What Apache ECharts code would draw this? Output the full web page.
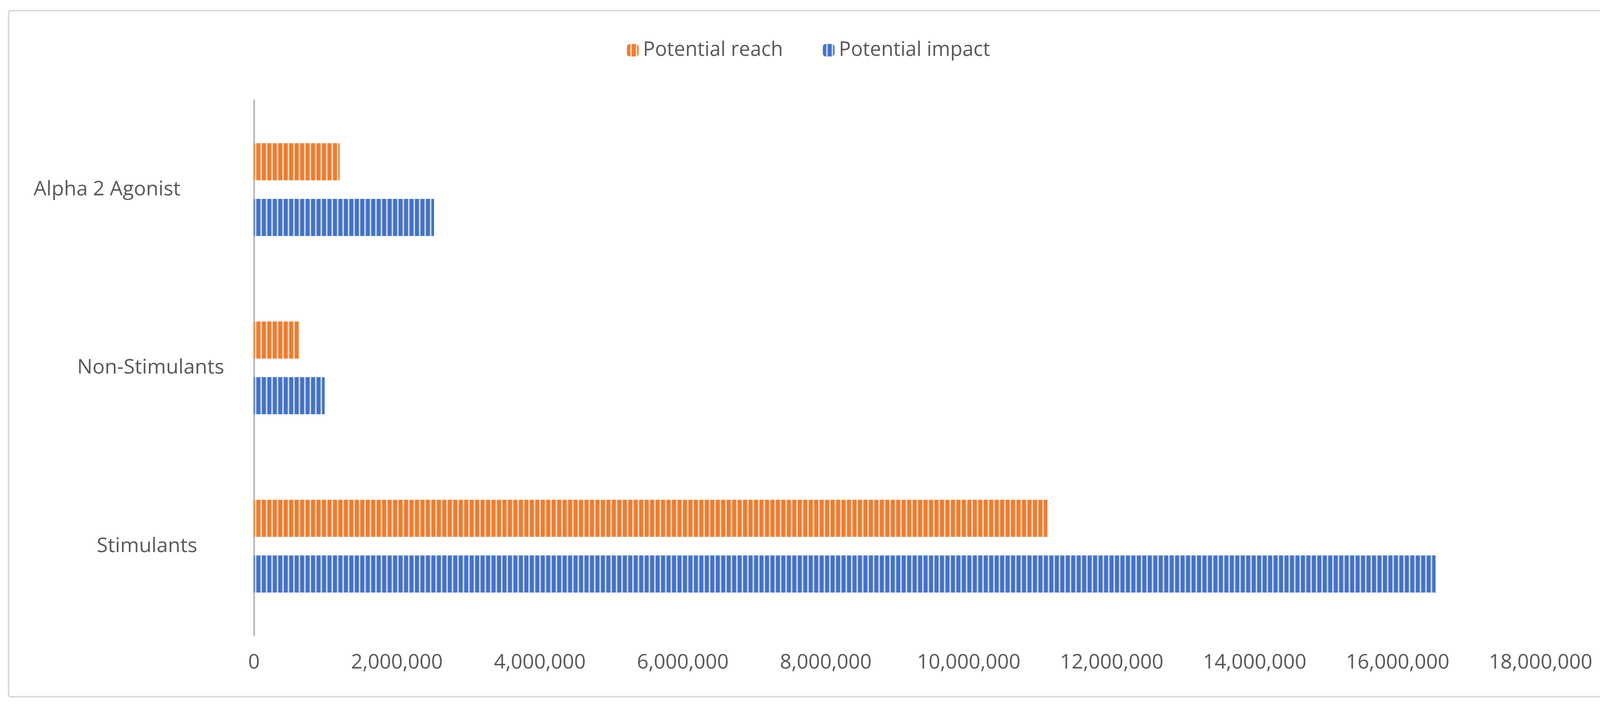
<!DOCTYPE html>
<html>
<head>
<meta charset="utf-8">
<script src="https://cdn.jsdelivr.net/npm/echarts@6/dist/echarts.min.js"></script>
<style>
html,body{margin:0;padding:0;background:#fff;}
#chart{width:4140px;height:1812px;}
</style>
</head>
<body>
<div id="chart"></div>
<script>
// ---- data ----
const categories = ['Stimulants', 'Non-Stimulants', 'Alpha 2 Agonist'];
const seriesNames = ['Potential reach', 'Potential impact'];
const potentialReach = [11100000, 630000, 1200000];
const potentialImpact = [16530000, 990000, 2520000];
const xTicks = { min: 0, max: 18000000, interval: 2000000 };

// ---- striped pattern fills ----
function stripe(dark, mid, light) {
  const c = document.createElement('canvas');
  c.width = 14; c.height = 4;
  const ctx = c.getContext('2d');
  const cols = [dark, dark, dark, dark, dark, dark, dark, dark, mid, light, light, light, mid, dark];
  cols.forEach((col, i) => { ctx.fillStyle = col; ctx.fillRect(i, 0, 1, 4); });
  return { image: c, repeat: 'repeat' };
}
const orangeFill = stripe('#ED7D31', '#F3A46C', '#FBDCC5');
const blueFill = stripe('#4472C4', '#7D9DD6', '#D3DEF2');

const fmt = v => v.toLocaleString('en-US');
const FONT = 'Open Sans';

const chart = echarts.init(document.getElementById('chart'), null, { renderer: 'canvas' });
chart.setOption({
  backgroundColor: '#ffffff',
  animation: false,
  textStyle: { fontFamily: FONT },
  graphic: [{
    type: 'rect', z: -1,
    shape: { x: 22, y: 27, width: 4096, height: 1756, r: 6 },
    style: { fill: 'none', stroke: '#d9d9d9', lineWidth: 4 }
  }],
  legend: {
    data: seriesNames,
    left: 1600, top: 98,
    itemWidth: 30, itemHeight: 32, itemGap: 102,
    textStyle: { fontSize: 51, color: '#595959', fontFamily: FONT, padding: [0, 0, 0, 6] }
  },
  grid: { left: 650, right: 196, top: 257, bottom: 186, containLabel: false },
  xAxis: {
    type: 'value', min: xTicks.min, max: xTicks.max, interval: xTicks.interval,
    axisLine: { show: false }, axisTick: { show: false }, splitLine: { show: false },
    axisLabel: { fontSize: 52, color: '#595959', fontFamily: FONT, margin: 44, formatter: fmt }
  },
  yAxis: {
    type: 'category', data: categories,
    axisLine: { show: true, lineStyle: { color: '#bfbfbf', width: 5 } },
    axisTick: { show: false },
    axisLabel: {
      fontSize: 52, color: '#595959', fontFamily: FONT, margin: 76, align: 'right',
      formatter: v => v === 'Non-Stimulants' ? '{n|' + v + '}' : (v === 'Stimulants' ? '{s|' + v + '}' : '{a|' + v + '}'),
      rich: {
        n: { fontSize: 52, color: '#595959', fontFamily: FONT },
        s: { fontSize: 52, color: '#595959', fontFamily: FONT, padding: [0, 69, 0, 0] },
        a: { fontSize: 52, color: '#595959', fontFamily: FONT, padding: [0, 112, 0, 0] }
      }
    }
  },
  series: [
    { name: seriesNames[0], type: 'bar', data: potentialReach, barWidth: 95, barGap: '50%',
      itemStyle: { color: orangeFill } },
    { name: seriesNames[1], type: 'bar', data: potentialImpact, barWidth: 95, barGap: '50%',
      itemStyle: { color: blueFill } }
  ]
});
</script>
</body>
</html>
